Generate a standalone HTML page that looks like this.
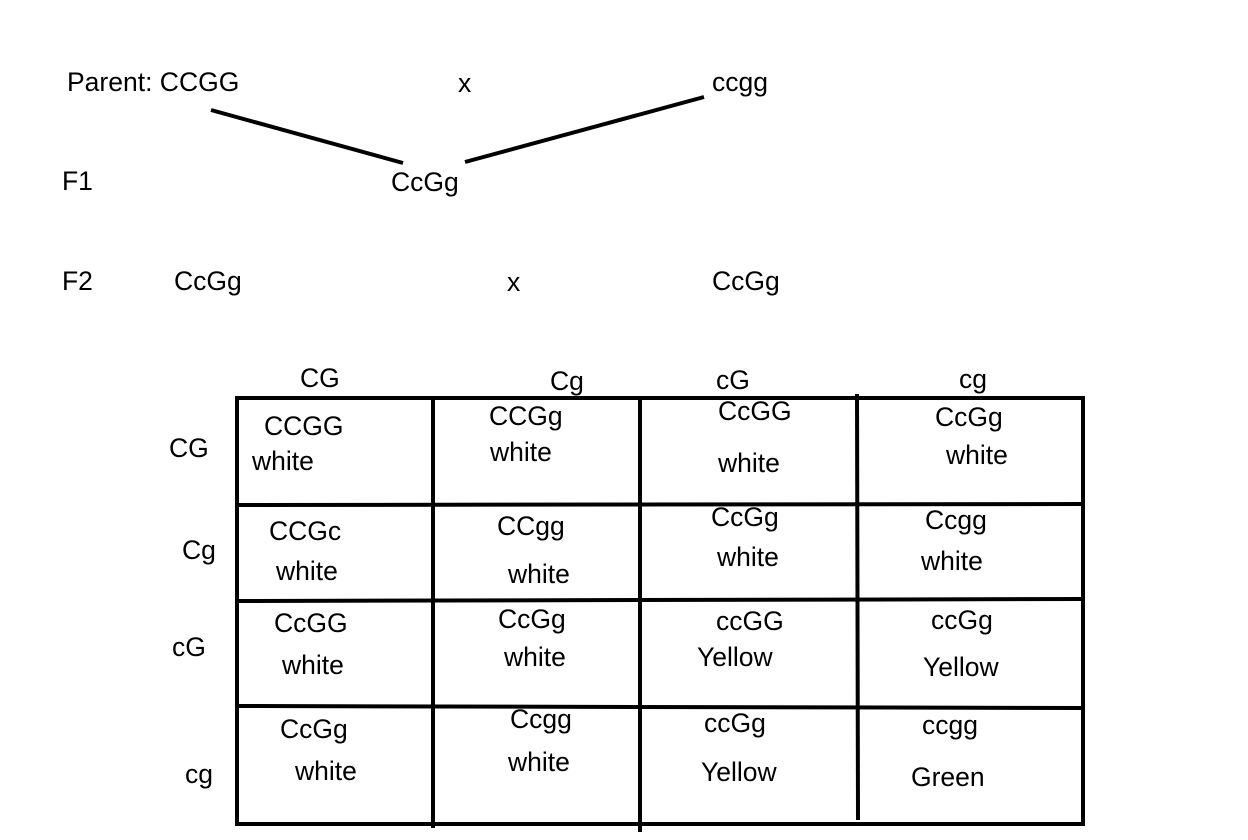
<!DOCTYPE html>
<html><head><meta charset="utf-8"><style>
html,body{margin:0;padding:0;background:#fff;}
svg{display:block;}
text{font-family:"Liberation Sans",Arial,sans-serif;font-size:26.5px;fill:#000;}
</style></head><body>
<svg width="1248" height="840" viewBox="0 0 1248 840" xmlns="http://www.w3.org/2000/svg">
<rect width="1248" height="840" fill="#fff"/>
<text x="67" y="91">Parent: CCGG</text>
<text x="458" y="92">x</text>
<text x="712" y="91">ccgg</text>
<line x1="211" y1="110" x2="403" y2="163" stroke="#000" stroke-width="4"/>
<line x1="465" y1="162" x2="704" y2="97" stroke="#000" stroke-width="4"/>
<text x="62" y="190">F1</text>
<text x="391" y="191">CcGg</text>
<text x="62" y="290">F2</text>
<text x="174" y="290">CcGg</text>
<text x="507" y="291">x</text>
<text x="712" y="290">CcGg</text>

<text x="300" y="387">CG</text>
<text x="550" y="390">Cg</text>
<text x="716" y="389">cG</text>
<text x="959" y="388">cg</text>

<text x="169" y="457">CG</text>
<text x="182" y="559">Cg</text>
<text x="172" y="656">cG</text>
<text x="185" y="783">cg</text>

<g stroke="#000" stroke-width="4" fill="none">
<rect x="237" y="398" width="846" height="426"/>
<line x1="433" y1="396" x2="433" y2="828"/>
<line x1="640" y1="398" x2="640" y2="832"/>
<line x1="857" y1="394" x2="858" y2="820"/>
<line x1="235" y1="505" x2="1083" y2="504"/>
<line x1="235" y1="601" x2="1083" y2="599"/>
<line x1="235" y1="706" x2="1083" y2="708"/>
</g>

<text x="264" y="435">CCGG</text><text x="252" y="470">white</text>
<text x="489" y="425">CCGg</text><text x="490" y="461">white</text>
<text x="718" y="420">CcGG</text><text x="718" y="472">white</text>
<text x="935" y="426">CcGg</text><text x="946" y="464">white</text>

<text x="269" y="540">CCGc</text><text x="276" y="580">white</text>
<text x="497" y="535">CCgg</text><text x="508" y="583">white</text>
<text x="711" y="526">CcGg</text><text x="717" y="566">white</text>
<text x="925" y="529">Ccgg</text><text x="921" y="570">white</text>

<text x="274" y="632">CcGG</text><text x="282" y="674">white</text>
<text x="498" y="628">CcGg</text><text x="504" y="666">white</text>
<text x="716" y="630">ccGG</text><text x="697" y="666">Yellow</text>
<text x="931" y="629">ccGg</text><text x="923" y="676">Yellow</text>

<text x="280" y="738">CcGg</text><text x="295" y="780">white</text>
<text x="510" y="728">Ccgg</text><text x="508" y="771">white</text>
<text x="704" y="732">ccGg</text><text x="701" y="781">Yellow</text>
<text x="922" y="734">ccgg</text><text x="911" y="786">Green</text>
</svg>
</body></html>
